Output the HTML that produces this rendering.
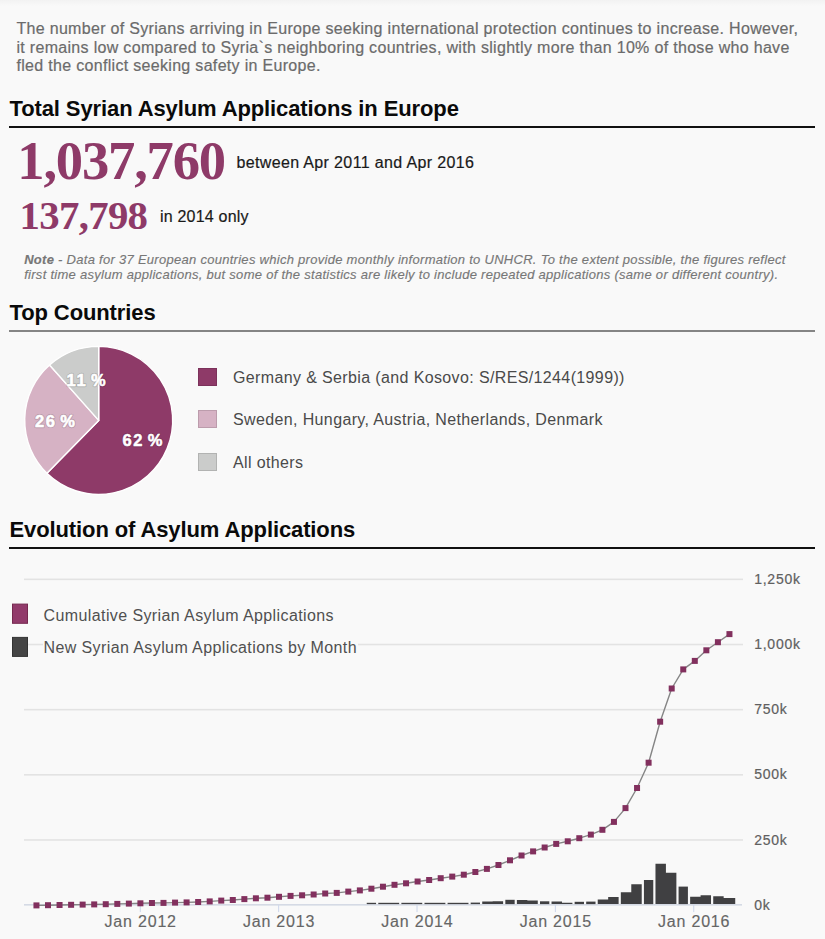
<!DOCTYPE html>
<html><head><meta charset="utf-8"><title>Syrian Asylum Applications in Europe</title>
<style>
html,body{margin:0;padding:0;}
body{width:825px;height:939px;overflow:hidden;background:#f9f9f9;position:relative;font-family:"Liberation Sans",sans-serif;}
.topfade{position:absolute;left:0;top:0;width:825px;height:6px;background:linear-gradient(#f2f2f2,#f9f9f9);}
.t{position:absolute;white-space:nowrap;}
.intro{font-size:16px;line-height:20px;color:#6b6b6b;letter-spacing:0.315px;-webkit-text-stroke:0.2px #6b6b6b;}
.h{font-size:22px;line-height:30px;font-weight:bold;color:#0a0a0a;letter-spacing:-0.11px;}
.rule{position:absolute;left:9px;width:806px;}
.big{font-family:"Liberation Serif",serif;font-weight:bold;color:#8e3a68;transform-origin:0 0;}
.sub{font-size:16px;line-height:20px;color:#1a1a1a;letter-spacing:0.36px;-webkit-text-stroke:0.2px #1a1a1a;}
.note{font-size:13px;line-height:16px;font-style:italic;color:#777;letter-spacing:0.28px;-webkit-text-stroke:0.15px #777;}
.leg{font-size:16px;line-height:20px;color:#4a4a4a;letter-spacing:0.37px;}
.cleg{font-size:16px;line-height:20px;color:#505050;letter-spacing:0.4px;background:#f9f9f9;padding:0 1px;}
.sw{position:absolute;}
svg{position:absolute;left:0;top:0;}
</style></head><body>
<div class="topfade"></div>

<div class="t intro" style="left:16.4px;top:19px;">The number of Syrians arriving in Europe seeking international protection continues to increase. However,</div>
<div class="t intro" style="left:16.4px;top:38px;">it remains low compared to Syria`s neighboring countries, with slightly more than 10% of those who have</div>
<div class="t intro" style="left:16.4px;top:56px;">fled the conflict seeking safety in Europe.</div>
<div class="t h" style="left:9.5px;top:94px;">Total Syrian Asylum Applications in Europe</div>
<div class="rule" style="top:126px;height:2px;background:#111"></div>
<div class="t big" style="left:17.3px;top:131px;font-size:54.6px;line-height:60px;letter-spacing:-1.2px">1,037,760</div>
<div class="t sub" style="left:236.4px;top:153px;">between Apr 2011 and Apr 2016</div>
<div class="t big" style="left:19.6px;top:194px;font-size:40.8px;line-height:44px;letter-spacing:-0.7px">137,798</div>
<div class="t sub" style="left:160px;top:207px;letter-spacing:0.2px">in 2014 only</div>
<div class="t note" style="left:24.2px;top:252px;"><b>Note</b> - Data for 37 European countries which provide monthly information to UNHCR. To the extent possible, the figures reflect</div>
<div class="t note" style="left:24.2px;top:267px;">first time asylum applications, but some of the statistics are likely to include repeated applications (same or different country).</div>
<div class="t h" style="left:9.5px;top:298px;">Top Countries</div>
<div class="rule" style="top:329.5px;height:2px;background:#858585"></div>
<svg width="825" height="939" viewBox="0 0 825 939">
<path d="M98.7,420.4 L98.70,346.40 A74.0,74.0 0 1 1 46.92,473.27 Z" fill="#8e3a68" stroke="#ffffff" stroke-width="1.4" stroke-linejoin="round"/><path d="M98.7,420.4 L46.92,473.27 A74.0,74.0 0 0 1 49.57,365.06 Z" fill="#d6b2c4" stroke="#ffffff" stroke-width="1.4" stroke-linejoin="round"/><path d="M98.7,420.4 L49.57,365.06 A74.0,74.0 0 0 1 98.70,346.40 Z" fill="#cbcccb" stroke="#ffffff" stroke-width="1.4" stroke-linejoin="round"/>
<g font-family="Liberation Sans" font-weight="bold" font-size="16.5" fill="none" stroke="#000" stroke-opacity="0.13" stroke-width="2.6" stroke-linejoin="round" style="letter-spacing:1.6px;word-spacing:-2.5px">
<text x="122.6" y="446">62 %</text>
<text x="35" y="427">26 %</text>
<text x="66.6" y="386">11 %</text>
</g>
<g font-family="Liberation Sans" font-weight="bold" font-size="16.5" fill="#fff" stroke="#fff" stroke-width="0.55" style="letter-spacing:1.6px;word-spacing:-2.5px">
<text x="122.6" y="446">62 %</text>
<text x="35" y="427">26 %</text>
<text x="66.6" y="386">11 %</text>
</g>
</svg>

<div class="sw" style="left:197.6px;top:367.6px;width:19.3px;height:18px;background:#8e3a68;box-shadow:inset 0 0 0 1px rgba(0,0,0,0.12)"></div>
<div class="sw" style="left:197.6px;top:410.1px;width:19.3px;height:18px;background:#d6b2c4;box-shadow:inset 0 0 0 1px rgba(0,0,0,0.12)"></div>
<div class="sw" style="left:197.6px;top:452.7px;width:19.3px;height:18px;background:#cbcccb;box-shadow:inset 0 0 0 1px rgba(0,0,0,0.12)"></div>
<div class="t leg" style="left:233px;top:368px;">Germany &amp; Serbia (and Kosovo: S/RES/1244(1999))</div>
<div class="t leg" style="left:233px;top:410px;">Sweden, Hungary, Austria, Netherlands, Denmark</div>
<div class="t leg" style="left:233px;top:453px;">All others</div>
<div class="t h" style="left:9.5px;top:515px;">Evolution of Asylum Applications</div>
<div class="rule" style="top:547px;height:2px;background:#111"></div>
<svg width="825" height="939" viewBox="0 0 825 939">
<rect x="24" y="839.19" width="719" height="1.6" fill="#e3e3e3"/>
<rect x="24" y="774.03" width="719" height="1.6" fill="#e3e3e3"/>
<rect x="24" y="708.87" width="719" height="1.6" fill="#e3e3e3"/>
<rect x="24" y="643.71" width="719" height="1.6" fill="#e3e3e3"/>
<rect x="24" y="578.55" width="719" height="1.6" fill="#e3e3e3"/>
<rect x="24" y="904.2" width="718" height="1.3" fill="#ccd3e0"/>
<rect x="139.80" y="905.1" width="1" height="7" fill="#ccd6eb"/>
<rect x="278.16" y="905.1" width="1" height="7" fill="#ccd6eb"/>
<rect x="416.52" y="905.1" width="1" height="7" fill="#ccd6eb"/>
<rect x="554.88" y="905.1" width="1" height="7" fill="#ccd6eb"/>
<rect x="693.24" y="905.1" width="1" height="7" fill="#ccd6eb"/>
<path d="M366.73,904.10 L366.73,902.80 L376.07,902.80 L376.07,904.10 Z" fill="#404042"/>
<path d="M378.28,904.10 L378.28,902.80 L388.73,902.80 L388.73,902.80 L399.17,902.80 L399.17,904.10 Z" fill="#404042"/>
<path d="M401.38,904.10 L401.38,902.80 L411.83,902.80 L411.83,902.80 L422.27,902.80 L422.27,904.10 Z" fill="#404042"/>
<path d="M424.48,904.10 L424.48,902.80 L434.92,902.80 L434.93,902.80 L445.38,902.80 L445.38,904.10 Z" fill="#404042"/>
<path d="M447.58,904.10 L447.58,902.80 L458.02,902.80 L458.03,902.80 L468.48,902.80 L468.48,904.10 Z" fill="#404042"/>
<path d="M470.68,904.10 L470.68,902.60 L480.02,902.60 L480.02,904.10 Z" fill="#404042"/>
<path d="M482.23,904.10 L482.23,901.50 L492.67,901.50 L492.68,901.20 L503.12,901.20 L503.12,904.10 Z" fill="#404042"/>
<path d="M505.33,904.10 L505.33,899.80 L514.67,899.80 L514.67,904.10 Z" fill="#404042"/>
<path d="M516.88,904.10 L516.88,900.10 L527.33,900.10 L527.33,900.50 L537.77,900.50 L537.77,904.10 Z" fill="#404042"/>
<path d="M539.98,904.10 L539.98,901.30 L549.32,901.30 L549.32,904.10 Z" fill="#404042"/>
<path d="M551.53,904.10 L551.53,901.60 L561.98,901.60 L561.98,902.70 L572.42,902.70 L572.42,904.10 Z" fill="#404042"/>
<path d="M574.63,904.10 L574.63,901.80 L583.98,901.80 L583.98,904.10 Z" fill="#404042"/>
<path d="M586.18,904.10 L586.18,901.60 L595.52,901.60 L595.52,904.10 Z" fill="#404042"/>
<path d="M597.73,904.10 L597.73,899.60 L608.17,899.60 L608.18,897.10 L618.62,897.10 L618.62,904.10 Z" fill="#404042"/>
<path d="M620.83,904.10 L620.83,892.20 L631.27,892.20 L631.28,884.30 L641.73,884.30 L641.73,904.10 Z" fill="#404042"/>
<path d="M643.93,904.10 L643.93,880.00 L653.27,880.00 L653.27,904.10 Z" fill="#404042"/>
<path d="M655.48,904.10 L655.48,863.80 L665.92,863.80 L665.93,872.70 L676.38,872.70 L676.38,904.10 Z" fill="#404042"/>
<path d="M678.58,904.10 L678.58,886.60 L687.92,886.60 L687.92,904.10 Z" fill="#404042"/>
<path d="M690.13,904.10 L690.13,896.70 L700.58,896.70 L700.58,895.20 L711.02,895.20 L711.02,904.10 Z" fill="#404042"/>
<path d="M713.23,904.10 L713.23,896.30 L723.67,896.30 L723.68,897.90 L735.23,897.90 L735.23,904.10 Z" fill="#404042"/>
<polyline points="36.45,905.40 48.00,905.20 59.55,905.00 71.10,904.80 82.65,904.60 94.20,904.40 105.75,904.20 117.30,903.90 128.85,903.60 140.40,903.30 151.95,903.00 163.50,902.90 175.05,902.60 186.60,902.40 198.15,902.00 209.70,901.40 221.25,900.60 232.80,900.00 244.35,899.10 255.90,898.30 267.45,897.70 279.00,896.80 290.55,895.90 302.10,895.30 313.65,894.50 325.20,893.50 336.75,892.90 348.30,891.60 359.85,890.40 371.40,888.70 382.95,886.70 394.50,884.80 406.05,883.30 417.60,881.50 429.15,880.00 440.70,878.20 452.25,876.60 463.80,874.70 475.35,872.00 486.90,868.90 498.45,865.00 510.00,860.30 521.55,855.50 533.10,851.40 544.65,847.50 556.20,843.90 567.75,841.30 579.30,838.20 590.85,834.60 602.40,829.80 613.95,821.90 625.50,808.10 637.05,788.00 648.60,762.70 660.15,721.70 671.70,688.50 683.25,669.40 694.80,660.90 706.35,650.30 717.90,642.20 729.45,634.10" fill="none" stroke="#858585" stroke-width="1.4" stroke-linejoin="round"/>
<rect x="33.45" y="902.40" width="6" height="6" fill="#82305e"/>
<rect x="45.00" y="902.20" width="6" height="6" fill="#82305e"/>
<rect x="56.55" y="902.00" width="6" height="6" fill="#82305e"/>
<rect x="68.10" y="901.80" width="6" height="6" fill="#82305e"/>
<rect x="79.65" y="901.60" width="6" height="6" fill="#82305e"/>
<rect x="91.20" y="901.40" width="6" height="6" fill="#82305e"/>
<rect x="102.75" y="901.20" width="6" height="6" fill="#82305e"/>
<rect x="114.30" y="900.90" width="6" height="6" fill="#82305e"/>
<rect x="125.85" y="900.60" width="6" height="6" fill="#82305e"/>
<rect x="137.40" y="900.30" width="6" height="6" fill="#82305e"/>
<rect x="148.95" y="900.00" width="6" height="6" fill="#82305e"/>
<rect x="160.50" y="899.90" width="6" height="6" fill="#82305e"/>
<rect x="172.05" y="899.60" width="6" height="6" fill="#82305e"/>
<rect x="183.60" y="899.40" width="6" height="6" fill="#82305e"/>
<rect x="195.15" y="899.00" width="6" height="6" fill="#82305e"/>
<rect x="206.70" y="898.40" width="6" height="6" fill="#82305e"/>
<rect x="218.25" y="897.60" width="6" height="6" fill="#82305e"/>
<rect x="229.80" y="897.00" width="6" height="6" fill="#82305e"/>
<rect x="241.35" y="896.10" width="6" height="6" fill="#82305e"/>
<rect x="252.90" y="895.30" width="6" height="6" fill="#82305e"/>
<rect x="264.45" y="894.70" width="6" height="6" fill="#82305e"/>
<rect x="276.00" y="893.80" width="6" height="6" fill="#82305e"/>
<rect x="287.55" y="892.90" width="6" height="6" fill="#82305e"/>
<rect x="299.10" y="892.30" width="6" height="6" fill="#82305e"/>
<rect x="310.65" y="891.50" width="6" height="6" fill="#82305e"/>
<rect x="322.20" y="890.50" width="6" height="6" fill="#82305e"/>
<rect x="333.75" y="889.90" width="6" height="6" fill="#82305e"/>
<rect x="345.30" y="888.60" width="6" height="6" fill="#82305e"/>
<rect x="356.85" y="887.40" width="6" height="6" fill="#82305e"/>
<rect x="368.40" y="885.70" width="6" height="6" fill="#82305e"/>
<rect x="379.95" y="883.70" width="6" height="6" fill="#82305e"/>
<rect x="391.50" y="881.80" width="6" height="6" fill="#82305e"/>
<rect x="403.05" y="880.30" width="6" height="6" fill="#82305e"/>
<rect x="414.60" y="878.50" width="6" height="6" fill="#82305e"/>
<rect x="426.15" y="877.00" width="6" height="6" fill="#82305e"/>
<rect x="437.70" y="875.20" width="6" height="6" fill="#82305e"/>
<rect x="449.25" y="873.60" width="6" height="6" fill="#82305e"/>
<rect x="460.80" y="871.70" width="6" height="6" fill="#82305e"/>
<rect x="472.35" y="869.00" width="6" height="6" fill="#82305e"/>
<rect x="483.90" y="865.90" width="6" height="6" fill="#82305e"/>
<rect x="495.45" y="862.00" width="6" height="6" fill="#82305e"/>
<rect x="507.00" y="857.30" width="6" height="6" fill="#82305e"/>
<rect x="518.55" y="852.50" width="6" height="6" fill="#82305e"/>
<rect x="530.10" y="848.40" width="6" height="6" fill="#82305e"/>
<rect x="541.65" y="844.50" width="6" height="6" fill="#82305e"/>
<rect x="553.20" y="840.90" width="6" height="6" fill="#82305e"/>
<rect x="564.75" y="838.30" width="6" height="6" fill="#82305e"/>
<rect x="576.30" y="835.20" width="6" height="6" fill="#82305e"/>
<rect x="587.85" y="831.60" width="6" height="6" fill="#82305e"/>
<rect x="599.40" y="826.80" width="6" height="6" fill="#82305e"/>
<rect x="610.95" y="818.90" width="6" height="6" fill="#82305e"/>
<rect x="622.50" y="805.10" width="6" height="6" fill="#82305e"/>
<rect x="634.05" y="785.00" width="6" height="6" fill="#82305e"/>
<rect x="645.60" y="759.70" width="6" height="6" fill="#82305e"/>
<rect x="657.15" y="718.70" width="6" height="6" fill="#82305e"/>
<rect x="668.70" y="685.50" width="6" height="6" fill="#82305e"/>
<rect x="680.25" y="666.40" width="6" height="6" fill="#82305e"/>
<rect x="691.80" y="657.90" width="6" height="6" fill="#82305e"/>
<rect x="703.35" y="647.30" width="6" height="6" fill="#82305e"/>
<rect x="714.90" y="639.20" width="6" height="6" fill="#82305e"/>
<rect x="726.45" y="631.10" width="6" height="6" fill="#82305e"/>
<g font-family="Liberation Sans" font-size="14" fill="#606060" stroke="#606060" stroke-width="0.2" style="letter-spacing:0.75px">
<text x="754.2" y="584">1,250k</text>
<text x="754.2" y="649">1,000k</text>
<text x="754.2" y="714">750k</text>
<text x="754.2" y="779">500k</text>
<text x="754.2" y="845">250k</text>
<text x="754.2" y="910">0k</text>
</g>
<g font-family="Liberation Sans" font-size="16" fill="#666" stroke="#666" stroke-width="0.15" text-anchor="middle" style="letter-spacing:0.8px">
<text x="140.70" y="927">Jan 2012</text>
<text x="279.06" y="927">Jan 2013</text>
<text x="417.42" y="927">Jan 2014</text>
<text x="555.78" y="927">Jan 2015</text>
<text x="694.14" y="927">Jan 2016</text>
</g>
<rect x="12.5" y="604.1" width="15" height="19.2" fill="#923b6b" stroke="#76294f" stroke-width="1"/>
<rect x="12.5" y="637.4" width="15" height="19" fill="#454545" stroke="#333" stroke-width="1"/>
</svg>
<div class="t cleg" style="left:42.5px;top:606px;">Cumulative Syrian Asylum Applications</div>
<div class="t cleg" style="left:42.5px;top:638px;">New Syrian Asylum Applications by Month</div>
</body></html>
